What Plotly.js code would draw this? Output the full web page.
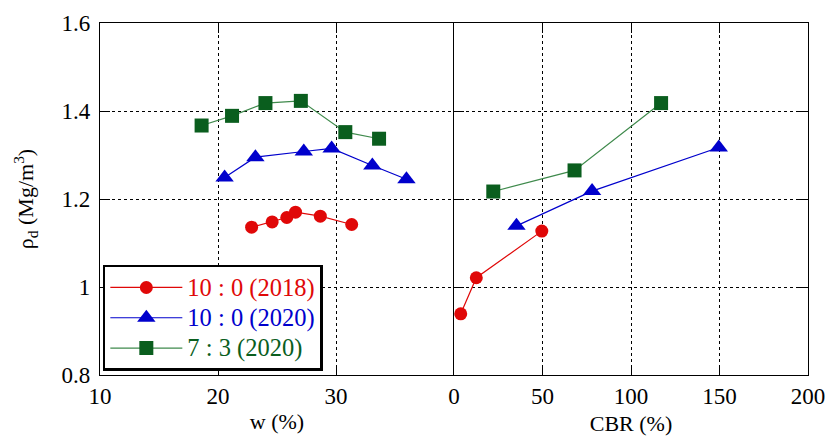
<!DOCTYPE html>
<html>
<head>
<meta charset="utf-8">
<script src="https://cdn.plot.ly/plotly-3.0.1.min.js"></script>
<style>html,body{margin:0;padding:0;background:#fff;}#chart{width:827px;height:436px;}</style>
</head>
<body>
<div id="chart"></div>
<script>
// Left panel: water content w (%) vs dry density
const w2018 = [22.85, 24.59, 25.83, 26.57, 28.67, 31.33];
const rhoW2018 = [1.136, 1.148, 1.158, 1.170, 1.161, 1.142];
const w2020 = [20.56, 23.17, 27.27, 29.63, 33.08, 35.97];
const rhoW2020 = [1.249, 1.295, 1.308, 1.315, 1.276, 1.245];
const w73 = [18.61, 21.19, 24.02, 27.02, 30.79, 33.65];
const rhoW73 = [1.367, 1.389, 1.418, 1.423, 1.352, 1.337];
// Right panel: CBR (%) vs dry density
const cbr2018 = [3.8, 12.6, 49.6];
const rhoC2018 = [0.939, 1.021, 1.127];
const cbr2020 = [35.3, 78.0, 149.6];
const rhoC2020 = [1.139, 1.218, 1.317];
const cbr73 = [22.2, 68.1, 117.0];
const rhoC73 = [1.217, 1.265, 1.418];
// Labels
const names = ['10 : 0 (2018)', '10 : 0 (2020)', '7 : 3 (2020)'];
const wTicks = [10, 20, 30];
const cbrTicks = [0, 50, 100, 150, 200];
const rhoTicks = [0.8, 1.0, 1.2, 1.4, 1.6];

const red = '#e00808', blue = '#0000cc', green = '#0a5e1e', greenLine = '#3f8a4c';
const series = [
  {x: w2018, y: rhoW2018, cx: cbr2018, cy: rhoC2018, name: names[0], color: red, line: red, symbol: 'circle', size: 13},
  {x: w2020, y: rhoW2020, cx: cbr2020, cy: rhoC2020, name: names[1], color: blue, line: blue, symbol: 'triangle-up', size: 16},
  {x: w73, y: rhoW73, cx: cbr73, cy: rhoC73, name: names[2], color: green, line: greenLine, symbol: 'square', size: 14}
];
const traces = [];
series.forEach(s => {
  traces.push({x: s.x, y: s.y, xaxis: 'x', yaxis: 'y', mode: 'lines+markers', type: 'scatter',
    name: '<span style="color:' + s.color + ';font-size:24.5px">' + s.name + '</span>',
    line: {color: s.line, width: 1.2},
    marker: {symbol: s.symbol, size: s.size, color: s.color, line: {width: 0}}});
  traces.push({x: s.cx, y: s.cy, xaxis: 'x2', yaxis: 'y2', mode: 'lines+markers', type: 'scatter',
    showlegend: false,
    line: {color: s.line, width: 1.2},
    marker: {symbol: s.symbol, size: s.size, color: s.color, line: {width: 0}}});
});

const FONT = "'Liberation Serif', 'Times New Roman', Times, serif";
const common = {
  showgrid: true, gridcolor: '#000', griddash: 'dot', gridwidth: 1,
  showline: true, linecolor: '#000', linewidth: 1.2, mirror: 'ticks',
  ticks: 'inside', ticklen: 10, tickcolor: '#000', tickwidth: 1,
  zeroline: false, tickfont: {family: FONT, size: 23, color: '#000'}, automargin: false
};
const layout = {
  width: 827, height: 436,
  margin: {l: 100, r: 19, t: 23, b: 61},
  paper_bgcolor: '#fff', plot_bgcolor: '#fff',
  font: {family: FONT, color: '#000'},
  showlegend: true,
  legend: {x: 0.004, y: 0.313, xanchor: 'left', yanchor: 'top',
    bgcolor: '#fff', bordercolor: '#000', borderwidth: 2.5,
    font: {family: FONT, size: 21}, itemwidth: 72, tracegroupgap: 0},
  xaxis: Object.assign({}, common, {domain: [0, 0.5], range: [10, 40], tickmode: 'array', tickvals: wTicks,
    anchor: 'y', title: {text: 'w (%)', font: {family: FONT, size: 22}, standoff: 5}}),
  xaxis2: Object.assign({}, common, {domain: [0.5, 1], range: [0, 200], tickmode: 'array', tickvals: cbrTicks,
    anchor: 'y2', title: {text: 'CBR (%)', font: {family: FONT, size: 22}, standoff: 20}}),
  yaxis: Object.assign({}, common, {domain: [0, 1], range: [0.8, 1.6], tickmode: 'array', tickvals: rhoTicks,
    ticktext: rhoTicks.map(v => String(v)), anchor: 'x', ticklabelstandoff: 4, mirror: false,
    title: {text: 'ρ<sub>d</sub> (Mg/m<sup>3</sup>)', font: {family: FONT, size: 22}, standoff: 21}}),
  yaxis2: Object.assign({}, common, {domain: [0, 1], range: [0.8, 1.6], tickmode: 'array', tickvals: rhoTicks,
    anchor: 'x2', matches: 'y', showticklabels: false})
};
Plotly.newPlot('chart', traces, layout, {staticPlot: true, displayModeBar: false});
</script>
</body>
</html>
